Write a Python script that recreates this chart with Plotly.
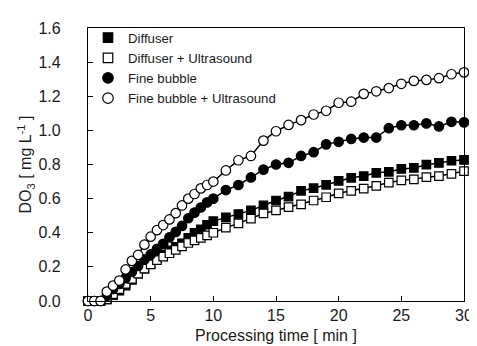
import plotly.graph_objects as go

time_min = [0, 0.5, 1, 1.5, 2, 2.5, 3, 3.5, 4, 4.5, 5, 5.5, 6, 6.5, 7, 7.5, 8, 8.5, 9, 9.5, 10,
            11, 12, 13, 14, 15, 16, 17, 18, 19, 20, 21, 22, 23, 24, 25, 26, 27, 28, 29, 30]

diffuser = [0, 0, 0, 0.01, 0.035, 0.06, 0.09, 0.124, 0.16, 0.19, 0.22, 0.248, 0.272, 0.297, 0.318,
            0.338, 0.37, 0.40, 0.42, 0.447, 0.468,
            0.49, 0.51, 0.531, 0.56, 0.589, 0.612, 0.646, 0.661, 0.681, 0.704, 0.722, 0.732, 0.751,
            0.757, 0.774, 0.78, 0.799, 0.809, 0.822, 0.827]

diffuser_us = [0, 0, 0, 0.01, 0.04, 0.07, 0.10, 0.13, 0.16, 0.19, 0.215, 0.24, 0.26, 0.28, 0.30,
               0.32, 0.34, 0.355, 0.37, 0.385, 0.40,
               0.43, 0.455, 0.483, 0.513, 0.531, 0.55, 0.566, 0.589, 0.608, 0.631, 0.646, 0.659,
               0.675, 0.694, 0.707, 0.713, 0.726, 0.732, 0.745, 0.761]

fine_bubble = [0, 0, 0, 0.03, 0.07, 0.10, 0.134, 0.17, 0.205, 0.243, 0.273, 0.305, 0.335, 0.373,
               0.405, 0.44, 0.485, 0.518, 0.548, 0.578, 0.60,
               0.65, 0.68, 0.724, 0.77, 0.80, 0.81, 0.85, 0.872, 0.918, 0.933, 0.95, 0.958, 0.958,
               1.013, 1.03, 1.03, 1.041, 1.023, 1.05, 1.047]

fine_bubble_us = [0, 0, 0, 0.055, 0.09, 0.12, 0.185, 0.235, 0.27, 0.33, 0.377, 0.415, 0.445, 0.478,
                  0.515, 0.56, 0.60, 0.627, 0.66, 0.68, 0.70,
                  0.765, 0.825, 0.85, 0.94, 0.995, 1.032, 1.06, 1.093, 1.115, 1.162, 1.168, 1.214,
                  1.229, 1.248, 1.273, 1.29, 1.296, 1.306, 1.329, 1.34]

series = [
    ("Diffuser", diffuser, "square", "black", 8.5),
    ("Diffuser + Ultrasound", diffuser_us, "square", "white", 8.5),
    ("Fine bubble", fine_bubble, "circle", "black", 9.5),
    ("Fine bubble + Ultrasound", fine_bubble_us, "circle", "white", 9.5),
]

fig = go.Figure()
for name, vals, sym, fill, sz in series:
    fig.add_trace(go.Scatter(
        x=time_min, y=vals, name=name, mode="lines+markers", showlegend=False,
        line=dict(color="black", width=1.5),
        marker=dict(symbol=sym, size=sz, color=fill, line=dict(color="black", width=1.2)),
        cliponaxis=False,
    ))
# legend entries (markers only, as in the reference)
for name, vals, sym, fill, sz in series:
    fig.add_trace(go.Scatter(
        x=[None], y=[None], name=name, mode="markers", showlegend=True,
        marker=dict(symbol=sym, size=sz + 1, color=fill, line=dict(color="black", width=1.2)),
    ))

font = "Liberation Sans, Arial, sans-serif"
fig.update_layout(
    width=477, height=346,
    margin=dict(l=80, r=19, t=17, b=50),
    paper_bgcolor="white", plot_bgcolor="white",
    font=dict(family=font, size=16, color="#1a1a1a"),
    showlegend=True,
    legend=dict(x=0.0, y=1.02, xanchor="left", yanchor="top",
                bgcolor="rgba(0,0,0,0)", font=dict(size=13.2, color="#1a1a1a"),
                tracegroupgap=0, itemwidth=30, itemsizing="trace"),
    xaxis=dict(range=[0, 30], tickvals=[0, 5, 10, 15, 20, 25, 30],
               ticks="inside", ticklen=5, tickwidth=1, tickcolor="black",
               showline=True, linecolor="black", linewidth=1.3, mirror=True,
               showgrid=False, zeroline=False,
               title=dict(text="Processing time [ min ]", standoff=6, font=dict(size=16)),
               tickfont=dict(size=16)),
    yaxis=dict(range=[0, 1.6], tickvals=[0, 0.2, 0.4, 0.6, 0.8, 1.0, 1.2, 1.4, 1.6],
               tickformat=".1f",
               ticks="inside", ticklen=5, tickwidth=1, tickcolor="black",
               showline=True, linecolor="black", linewidth=1.3, mirror=True,
               showgrid=False, zeroline=False, ticklabelstandoff=23,
               title=dict(text="DO<sub>3</sub> [ mg L<sup>-1</sup> ]", standoff=2, font=dict(size=16)),
               tickfont=dict(size=16)),
)

fig.write_html("out.html")
